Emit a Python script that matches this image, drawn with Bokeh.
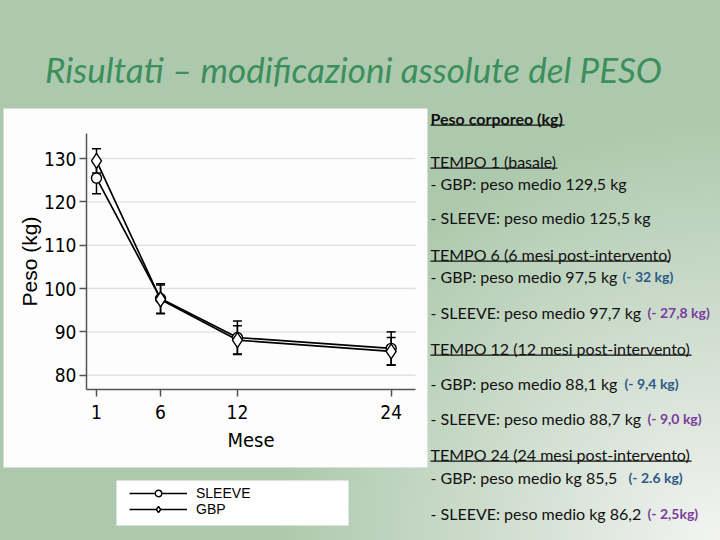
from bokeh.plotting import figure
from bokeh.models import (ColumnDataSource, Range1d, Label, BoxAnnotation,
                          Whisker, TeeHead, Legend, LegendItem, FixedTicker)
from bokeh.embed import file_html
from bokeh.resources import INLINE

# data
mesi = [1, 6, 12, 24]
gbp = [129.5, 97.5, 88.1, 85.5]
sleeve = [125.5, 97.7, 88.7, 86.2]
gbp_err = [2.8, 3.3, 3.3, 3.2]
sleeve_err = [3.6, 3.4, 3.8, 3.8]
y_ticks = [80, 90, 100, 110, 120, 130]

title_text = "Risultati \u2013 modificazioni assolute del PESO"

# right-hand text block: (text, bold, underline width, y)
notes = [
    ("Peso corporeo (kg)", True, 134, 118),
    ("TEMPO 1 (basale)", False, 127, 161),
    ("- GBP: peso medio 129,5 kg", False, 0, 183),
    ("- SLEEVE: peso medio 125,5 kg", False, 0, 217),
    ("TEMPO 6 (6 mesi post-intervento)", False, 239, 254),
    ("- GBP: peso medio 97,5 kg", False, 0, 276),
    ("- SLEEVE: peso medio 97,7 kg", False, 0, 312),
    ("TEMPO 12 (12 mesi post-intervento)", False, 261, 348),
    ("- GBP: peso medio 88,1 kg", False, 0, 383),
    ("- SLEEVE: peso medio 88,7 kg", False, 0, 418),
    ("TEMPO 24 (24 mesi post-intervento)", False, 261, 454),
    ("- GBP: peso medio  kg 85,5", False, 0, 477),
    ("- SLEEVE: peso medio kg 86,2", False, 0, 513),
]
# coloured differences: (text, group, x, y)
deltas = [
    ("(- 32 kg)", "GBP", 622, 276),
    ("(- 27,8 kg)", "SLEEVE", 647, 312),
    ("(- 9,4 kg)", "GBP", 624, 383),
    ("(- 9,0 kg)", "SLEEVE", 647, 418),
    ("(- 2.6 kg)", "GBP", 628, 477),
    ("(- 2,5kg)", "SLEEVE", 647, 513),
]
delta_colors = {"GBP": "#2e5a88", "SLEEVE": "#7a3d9e"}

NARROW = "'Liberation Sans Narrow', 'DejaVu Sans Condensed', sans-serif"

W, H = 720, 540
# chart frame on the slide (pixels) and its data limits
CH_L, CH_R, CH_T, CH_B = 86, 415, 133, 389
X_LO, X_HI, Y_LO, Y_HI = 0.22, 25.9, 76.7, 135.8
kx = (X_HI - X_LO) / (CH_R - CH_L)
ky = (Y_HI - Y_LO) / (CH_B - CH_T)

source = ColumnDataSource(data=dict(
    mesi=mesi, gbp=gbp, sleeve=sleeve,
    gbp_lo=[v - e for v, e in zip(gbp, gbp_err)],
    gbp_hi=[v + e for v, e in zip(gbp, gbp_err)],
    sl_lo=[v - e for v, e in zip(sleeve, sleeve_err)],
    sl_hi=[v + e for v, e in zip(sleeve, sleeve_err)],
))

# the frame fills the whole slide; the chart axes sit inside it
p = figure(width=W, height=H, output_backend="svg", toolbar_location=None,
           x_range=Range1d(X_LO - CH_L * kx, X_HI + (W - CH_R) * kx),
           y_range=Range1d(Y_LO - (H - CH_B) * ky, Y_HI + CH_T * ky),
           min_border=0)
p.styles = {"background": "radial-gradient(ellipse 440px 420px at 100% 100%, "
                          "#f3f4f2 0%, #d3e0d2 45%, #adc9ad 100%)"}
p.border_fill_alpha = 0
p.background_fill_alpha = 0
p.outline_line_color = None

# slide pixel ranges for decorations
p.extra_x_ranges["px"] = Range1d(0, W)
p.extra_y_ranges["py"] = Range1d(H, 0)

# white panel behind the chart and behind the legend
p.add_layout(BoxAnnotation(left=3, right=427, top=108, bottom=467,
                           x_range_name="px", y_range_name="py",
                           fill_color="#fdfdfd", fill_alpha=1,
                           line_color="#d8d8d8", line_width=1, level="image"))
p.add_layout(BoxAnnotation(left=116, right=348, top=480, bottom=525,
                           x_range_name="px", y_range_name="py",
                           fill_color="white", fill_alpha=1,
                           line_alpha=0, level="image"))

# horizontal grid limited to the chart
p.grid.visible = False
p.segment(x0=[X_LO] * len(y_ticks), x1=[X_HI] * len(y_ticks), y0=y_ticks, y1=y_ticks,
          line_color="#e2e2e2", line_width=1.5, level="underlay")

p.xaxis.ticker = FixedTicker(ticks=mesi)
p.yaxis.ticker = FixedTicker(ticks=y_ticks)
p.xaxis.fixed_location = Y_LO
p.xaxis.bounds = (X_LO, X_HI)
p.yaxis.fixed_location = X_LO
p.yaxis.bounds = (Y_LO, Y_HI)
for ax in (p.xaxis, p.yaxis):
    ax.axis_line_color = "#555555"
    ax.axis_line_width = 1.5
    ax.major_tick_line_color = "#555555"
    ax.major_tick_line_width = 1.5
    ax.major_tick_out = 7
    ax.major_tick_in = 0
    ax.minor_tick_line_color = None
    ax.major_label_text_font = NARROW
    ax.major_label_text_font_size = "19px"
    ax.major_label_text_color = "black"
    ax.axis_label_text_font_style = "normal"
    ax.axis_label_text_color = "black"
    ax.axis_label_text_font_size = "20px"
p.xaxis.axis_label = "Mese"
p.xaxis.axis_label_text_font = NARROW
p.xaxis.major_label_standoff = 8
p.xaxis.axis_label_standoff = 6
p.yaxis.axis_label = "Peso (kg)"
p.yaxis.axis_label_text_font = "Liberation Sans"
p.yaxis.axis_label_text_font_size = "21px"
p.yaxis.major_label_standoff = 3
p.yaxis.axis_label_standoff = 0

# error bars
for lo, hi in (("gbp_lo", "gbp_hi"), ("sl_lo", "sl_hi")):
    p.add_layout(Whisker(source=source, base="mesi", lower=lo, upper=hi,
                         line_color="black", line_width=1.5,
                         upper_head=TeeHead(size=9, line_color="black", line_width=1.5),
                         lower_head=TeeHead(size=9, line_color="black", line_width=1.5)))

l_s = p.line("mesi", "sleeve", source=source, line_color="black", line_width=1.7)
l_g = p.line("mesi", "gbp", source=source, line_color="black", line_width=1.7)
m_s = p.scatter("mesi", "sleeve", source=source, marker="circle", size=10,
                fill_color="white", line_color="black", line_width=1.4)
m_g = p.scatter("mesi", "gbp", source=source, marker="diamond", size=15,
                fill_color="white", line_color="black", line_width=1.4)

legend = Legend(items=[LegendItem(label="SLEEVE", renderers=[l_s, m_s]),
                       LegendItem(label="GBP", renderers=[l_g, m_g])],
                location=(129, H - 517), orientation="vertical",
                glyph_width=58, glyph_height=16, label_height=16,
                label_standoff=9, spacing=0, padding=0, margin=0,
                label_text_font="Liberation Sans", label_text_font_size="14px",
                label_text_color="black",
                background_fill_alpha=0, border_line_color=None)
p.add_layout(legend)

# title
p.add_layout(Label(x=353, y=68, x_range_name="px", y_range_name="py",
                   text=title_text, text_align="center", text_baseline="middle",
                   text_font="Lato", text_font_style="italic",
                   text_font_size="35px", text_color="#3c8f5c"))

# text block on the right
for txt, bold, uw, y in notes:
    p.add_layout(Label(x=430, y=y, x_range_name="px", y_range_name="py",
                       text=txt, text_align="left", text_baseline="middle",
                       text_font="Lato", text_font_size="16px",
                       text_font_style="bold" if bold else "normal",
                       text_color="#111111"))
    if uw:
        p.add_layout(BoxAnnotation(left=430, right=430 + uw, top=y + 6, bottom=y + 7.2,
                                   x_range_name="px", y_range_name="py",
                                   fill_color="#111111", fill_alpha=1, line_alpha=0))

for txt, grp, x, y in deltas:
    p.add_layout(Label(x=x, y=y, x_range_name="px", y_range_name="py",
                       text=txt, text_align="left", text_baseline="middle",
                       text_font="Lato", text_font_size="14px", text_font_style="bold",
                       text_color=delta_colors[grp]))

open("out.html", "w").write(file_html(p, INLINE))
